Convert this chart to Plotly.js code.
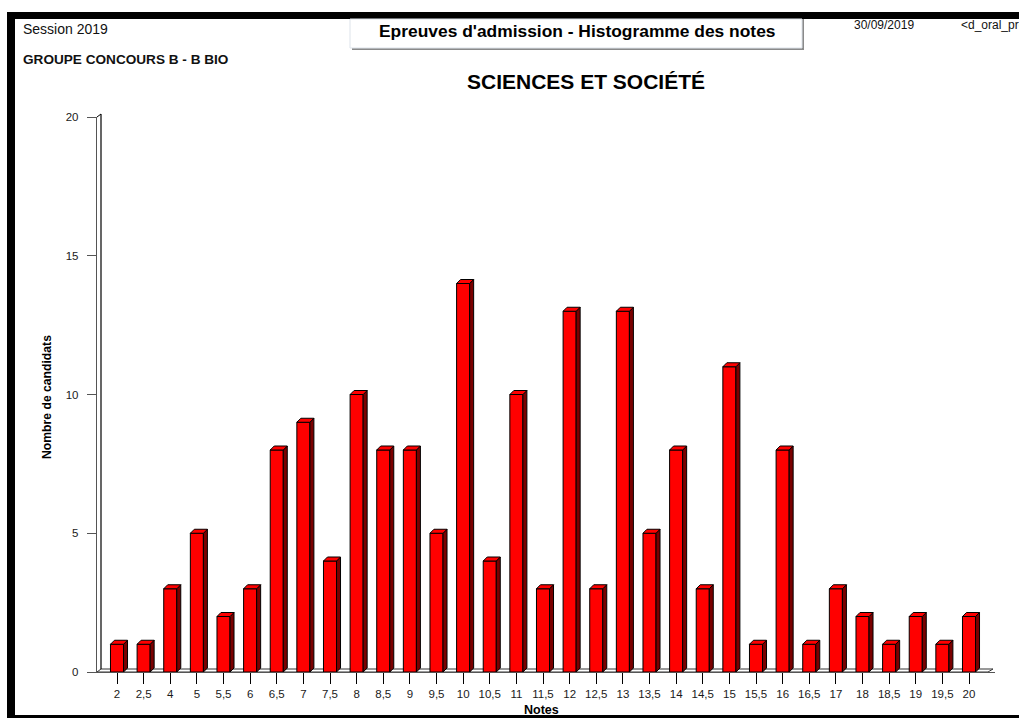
<!DOCTYPE html>
<html>
<head>
<meta charset="utf-8">
<script src="https://cdn.plot.ly/plotly-3.0.1.min.js"></script>
<style>
html,body{margin:0;padding:0;background:#fff;}
#chart{width:1019px;height:718px;}
</style>
</head>
<body>
<div id="chart"></div>
<script>
// ---- data ----
const noteLabels = ['2','2,5','4','5','5,5','6','6,5','7','7,5','8','8,5','9','9,5','10','10,5','11','11,5','12','12,5','13','13,5','14','14,5','15','15,5','16','16,5','17','18','18,5','19','19,5','20'];
const candidateCounts = [1,1,3,5,2,3,8,9,4,10,8,8,5,14,4,10,3,13,3,13,5,8,3,11,1,8,1,3,2,1,2,1,2];
const yTickValues = [0,5,10,15,20];

// ---- geometry (pixel frame) ----
const W = 1019, H = 718;
const L = 97, R = 995, T = 117, B = 672;
const firstCenter = 117, step = 26.625;
const xMin = (L - firstCenter) / step;
const xMax = xMin + (R - L) / step;
const px = p => (p - L) / (R - L);       // pixel x -> paper
const py = p => (B - p) / (B - T);       // pixel y -> paper

const idx = noteLabels.map((_, i) => i);
const hw = 0.245, dx = 4 / step, dy = 4 / 27.75;

const shapes = [];
// floor plane
shapes.push({type:'path', xref:'paper', yref:'paper', layer:'below',
  path:`M ${px(97)},${py(672)} L ${px(101)},${py(669)} L ${px(993)},${py(669)} L ${px(988)},${py(672)} Z`,
  fillcolor:'#ffffff', line:{color:'#333', width:1}});
// back wall second line
shapes.push({type:'line', xref:'paper', yref:'paper', layer:'below',
  x0:px(101), y0:py(669), x1:px(101), y1:py(114), line:{color:'#000', width:1.2}});
shapes.push({type:'line', xref:'paper', yref:'paper', layer:'below',
  x0:px(97), y0:py(117), x1:px(101), y1:py(114), line:{color:'#000', width:1}});

// 3D faces for each bar (built from data)
idx.forEach((i, k) => {
  const v = candidateCounts[k];
  shapes.push({type:'path', xref:'x', yref:'y',
    path:`M ${i+hw},0 L ${i+hw+dx},${dy} L ${i+hw+dx},${v+dy} L ${i+hw},${v} Z`,
    fillcolor:'#7a0000', line:{color:'#000', width:1}});
  shapes.push({type:'path', xref:'x', yref:'y',
    path:`M ${i-hw},${v} L ${i-hw+dx},${v+dy} L ${i+hw+dx},${v+dy} L ${i+hw},${v} Z`,
    fillcolor:'#ff0000', line:{color:'#000', width:1}});
});

// frame
shapes.push({type:'rect', xref:'paper', yref:'paper', x0:px(7), x1:px(15), y0:py(718), y1:py(12), fillcolor:'#000', line:{width:0}});
shapes.push({type:'rect', xref:'paper', yref:'paper', x0:px(7), x1:px(1019), y0:py(19), y1:py(12), fillcolor:'#000', line:{width:0}});
shapes.push({type:'rect', xref:'paper', yref:'paper', x0:px(7), x1:px(1019), y0:py(718), y1:py(715), fillcolor:'#000', line:{width:0}});
// header box shadow + box
shapes.push({type:'rect', xref:'paper', yref:'paper', x0:px(352), x1:px(804), y0:py(50), y1:py(19), fillcolor:'#8a8a8a', line:{width:0}});
shapes.push({type:'rect', xref:'paper', yref:'paper', x0:px(350), x1:px(802), y0:py(48), y1:py(19), fillcolor:'#ffffff', line:{color:'#dde3ea', width:1}});

const font = 'Liberation Sans, Arial, sans-serif';
const annotations = [
  {text:'Session 2019', x:px(21), y:py(29), xanchor:'left', yanchor:'middle', font:{size:14, color:'#111', family:font}},
  {text:'<b>GROUPE CONCOURS B - B BIO</b>', x:px(21), y:py(60), xanchor:'left', yanchor:'middle', font:{size:13.6, color:'#111', family:font}},
  {text:'<b>Epreuves d\'admission - Histogramme des notes</b>', x:px(577), y:py(31), xanchor:'center', yanchor:'middle', font:{size:17.4, color:'#000', family:font}},
  {text:'30/09/2019', x:px(852), y:py(25), xanchor:'left', yanchor:'middle', font:{size:12, color:'#111', family:font}},
  {text:'<d_oral_pre', x:px(959), y:py(25), xanchor:'left', yanchor:'middle', font:{size:12, color:'#111', family:font}},
  {text:'<b>SCIENCES ET SOCIÉTÉ</b>', x:px(586), y:py(81), xanchor:'center', yanchor:'middle', font:{size:21, color:'#000', family:font}},
  {text:'<b>Nombre de candidats</b>', x:px(47), y:py(397), xanchor:'center', yanchor:'middle', textangle:-90, font:{size:12.2, color:'#000', family:font}},
  {text:'<b>Notes</b>', x:px(541), y:py(710), xanchor:'center', yanchor:'middle', font:{size:12.5, color:'#000', family:font}}
].map(a => Object.assign({xref:'paper', yref:'paper', showarrow:false}, a));

const trace = {
  type:'bar', x: idx, y: candidateCounts, width: 0.49,
  marker:{color:'#ff0000', line:{color:'#000', width:1}},
  hoverinfo:'x+y'
};

const layout = {
  width:W, height:H,
  margin:{l:L, r:W-R, t:T, b:H-B, pad:0},
  paper_bgcolor:'#fff', plot_bgcolor:'rgba(0,0,0,0)',
  showlegend:false,
  xaxis:{range:[xMin, xMax], tickmode:'array', tickvals:idx, ticktext:noteLabels,
    ticks:'outside', ticklen:11, tickcolor:'#000', tickwidth:1,
    showline:true, linecolor:'#555', linewidth:1, showgrid:false, zeroline:false,
    tickfont:{family:font, size:11.5, color:'#1a1a1a'}, fixedrange:true},
  yaxis:{range:[0,20], tickmode:'array', tickvals:yTickValues,
    ticks:'outside', ticklen:9, tickcolor:'#555', tickwidth:1, ticklabelstandoff:6,
    showline:true, linecolor:'#555', linewidth:1.2, showgrid:false, zeroline:false,
    tickfont:{family:font, size:11.5, color:'#1a1a1a'}, fixedrange:true},
  shapes: shapes,
  annotations: annotations
};

Plotly.newPlot('chart', [trace], layout, {displayModeBar:false, staticPlot:true});
</script>
</body>
</html>
